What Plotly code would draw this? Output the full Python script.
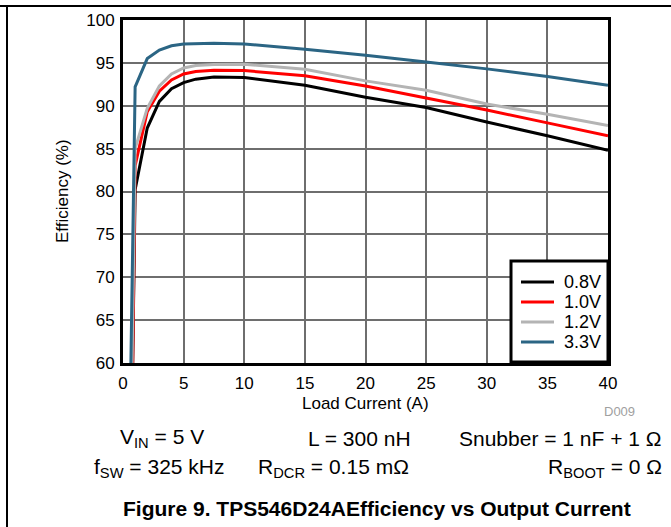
import plotly.graph_objects as go

# Data
x_08 = [0.8, 1, 2, 3, 4, 5, 6, 7.5, 10, 15, 20, 25, 30, 35, 40]
y_08 = [60, 80.2, 87.4, 90.5, 92.0, 92.7, 93.1, 93.35, 93.3, 92.4, 91.0, 89.8, 88.1, 86.5, 84.8]
x_10 = [0.8, 1, 2, 3, 4, 5, 6, 7.5, 10, 15, 20, 25, 30, 35, 40]
y_10 = [60, 83.0, 89.3, 91.7, 93.0, 93.7, 94.0, 94.15, 94.1, 93.5, 92.3, 90.9, 89.5, 88.0, 86.5]
x_12 = [0.75, 1, 2, 3, 4, 5, 6, 7.5, 10, 15, 20, 25, 30, 35, 40]
y_12 = [60, 85.0, 89.7, 92.3, 93.7, 94.4, 94.7, 94.8, 94.85, 94.25, 92.9, 91.8, 90.2, 89.0, 87.7]
x_33 = [0.65, 1, 2, 3, 4, 5, 7.5, 10, 15, 20, 25, 30, 35, 40]
y_33 = [60, 92.2, 95.5, 96.5, 97.0, 97.2, 97.3, 97.2, 96.6, 95.9, 95.1, 94.3, 93.4, 92.4]

series_names = ["0.8V", "1.0V", "1.2V", "3.3V"]
series_x = [x_08, x_10, x_12, x_33]
series_y = [y_08, y_10, y_12, y_33]
series_colors = ["#000000", "#ff0000", "#b4b4b4", "#2b6584"]

x_ticks = [0, 5, 10, 15, 20, 25, 30, 35, 40]
y_ticks = [60, 65, 70, 75, 80, 85, 90, 95, 100]

FONT = "Liberation Sans, Arial, sans-serif"

fig = go.Figure()
for name, xs, ys, col in zip(series_names, series_x, series_y, series_colors):
    fig.add_trace(go.Scatter(x=xs, y=ys, mode="lines", name=name, showlegend=False,
                             line=dict(color=col, width=3)))

L, R, T, B = 123, 63, 20, 164
W, H = 671, 527
PW = W - L - R
PH = H - T - B

def px(xp):
    return (xp - L) / PW

def py(yp):
    return (H - B - yp) / PH

fig.update_layout(
    width=W, height=H,
    margin=dict(l=L, r=R, t=T, b=B, pad=0),
    paper_bgcolor="white", plot_bgcolor="white",
    font=dict(family=FONT, size=17, color="black"),
    showlegend=False,
)
fig.update_xaxes(range=[0, 40], tickvals=x_ticks, ticktext=[str(v) for v in x_ticks],
                 showgrid=True, gridcolor="#6e6e6e", gridwidth=1.5,
                 showline=True, linecolor="black", linewidth=3, mirror=True,
                 ticks="outside", ticklen=3, tickcolor="rgba(0,0,0,0)",
                 zeroline=False, tickfont=dict(size=17))
fig.update_yaxes(range=[60, 100], tickvals=y_ticks, ticktext=[str(v) for v in y_ticks],
                 showgrid=True, gridcolor="#6e6e6e", gridwidth=1.5,
                 showline=True, linecolor="black", linewidth=3, mirror=True,
                 ticks="outside", ticklen=2, tickcolor="rgba(0,0,0,0)",
                 zeroline=False, tickfont=dict(size=17))

ann = []
def add(text, xp, yp, anchor="center", size=21, color="black", bold=False, angle=0):
    ann.append(dict(text=("<b>%s</b>" % text) if bold else text,
                    x=px(xp), y=py(yp), xref="paper", yref="paper",
                    xanchor=anchor, yanchor="middle", showarrow=False,
                    font=dict(size=size, color=color, family=FONT), textangle=angle))

add("Efficiency (%)", 63, 191, size=17, angle=-90)
add("Load Current (A)", 365, 403, size=17)
add("D009", 619, 411, size=13, color="#a0a0a0")
add("V<sub>IN</sub> = 5 V", 162, 438)
add("L = 300 nH", 359, 438)
add("Snubber = 1 nF + 1 Ω", 664, 438, anchor="right")
add("f<sub>SW</sub> = 325 kHz", 92, 468, anchor="left")
add("R<sub>DCR</sub> = 0.15 mΩ", 333, 468)
add("R<sub>BOOT</sub> = 0 Ω", 664, 468, anchor="right")
add("Figure 9. TPS546D24AEfficiency vs Output Current", 377, 508, size=21, bold=True)

# Legend box (drawn manually to match compact spacing)
shapes = []
shapes.append(dict(type="rect", xref="paper", yref="paper", layer="above",
                   x0=px(511), x1=px(608), y0=py(362), y1=py(261),
                   fillcolor="white", line=dict(color="black", width=3)))
for i, (name, col) in enumerate(zip(series_names, series_colors)):
    yy = 282 + 20 * i
    shapes.append(dict(type="line", xref="paper", yref="paper", layer="above",
                       x0=px(521), x1=px(554), y0=py(yy), y1=py(yy),
                       line=dict(color=col, width=3)))
    add(name, 562, yy, anchor="left", size=18)

# document frame lines
shapes.append(dict(type="line", xref="paper", yref="paper",
                   x0=px(0), x1=px(W), y0=py(6), y1=py(6),
                   line=dict(color="black", width=2)))
shapes.append(dict(type="line", xref="paper", yref="paper",
                   x0=px(7), x1=px(7), y0=py(6), y1=py(H),
                   line=dict(color="black", width=2)))

fig.update_layout(annotations=ann, shapes=shapes)

fig.write_html("out.html")
